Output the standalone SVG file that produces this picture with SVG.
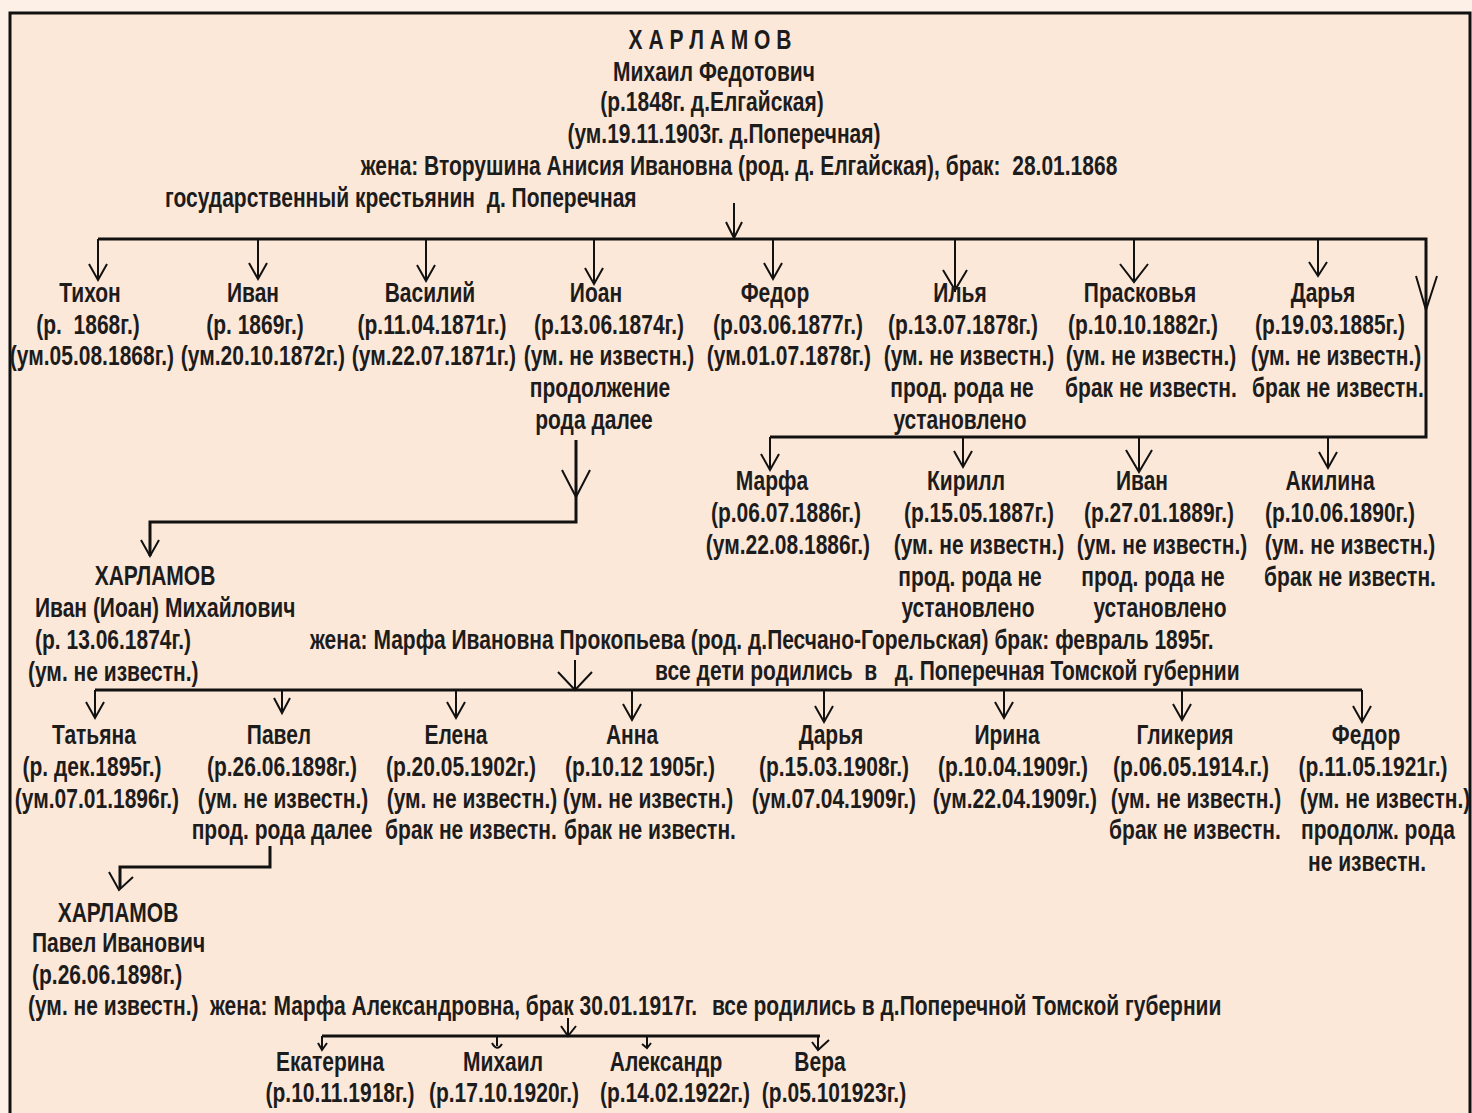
<svg xmlns="http://www.w3.org/2000/svg" width="1472" height="1113" viewBox="0 0 1472 1113">
<style>
.t{font-family:"Liberation Sans",Arial,sans-serif;font-size:21px;font-weight:bold;fill:#1c1c1c;text-anchor:middle;white-space:pre}
.l{text-anchor:start}
.c{stroke:#111;stroke-width:3;fill:none}
.h{stroke:#111;stroke-width:2;fill:none;stroke-linejoin:miter}
</style>
<rect x="0" y="0" width="1472" height="1113" fill="#fdf0e6"/>
<rect x="10" y="13" width="1460" height="1110" fill="#fce8d9" stroke="#111" stroke-width="3"/>

<g id="connectors">
  <path class="h" d="M734,203 V238"/>
  <path class="h" d="M726,222 L734,238 L742,222"/>
  <path class="c" d="M98,239 H1426 V437 H770"/>
  <path class="h" d="M98,239 V280 M89,264 L98,280 L107,264"/>
  <path class="h" d="M258,239 V279 M249,263 L258,279 L267,263"/>
  <path class="h" d="M426,239 V281 M417,265 L426,281 L435,265"/>
  <path class="h" d="M594,239 V284 M585,268 L594,284 L603,268"/>
  <path class="h" d="M773,239 V279 M764,263 L773,279 L782,263"/>
  <path class="h" d="M955,239 V292 M943,270 L955,290 L967,270"/>
  <path class="h" d="M1134,239 V282 M1120,264 L1134,282 L1148,264"/>
  <path class="h" d="M1318,239 V276 M1309,262 L1318,276 L1327,262"/>
  <path class="h" d="M1416,276 L1426,310 L1437,276"/>
  <path class="h" d="M770,437 V470 M761,454 L770,470 L779,454"/>
  <path class="h" d="M963,437 V467 M954,451 L963,467 L972,451"/>
  <path class="h" d="M1139,437 V472 M1126,450 L1139,472 L1152,450"/>
  <path class="h" d="M1328,437 V468 M1319,452 L1328,468 L1337,452"/>
  <path class="c" d="M576,440 V522 H150 V556"/>
  <path class="h" d="M562,470 L576,497 L590,470"/>
  <path class="h" d="M141,540 L150,556 L159,540"/>
  <path class="h" d="M575,660 V690 M558,672 L575,690 L592,672"/>
  <path class="c" d="M95,690 H1362"/>
  <path class="h" d="M95,690 V718 M86,702 L95,718 L104,702"/>
  <path class="h" d="M282,690 V713 M274,698 L282,713 L290,698"/>
  <path class="h" d="M456,690 V718 M447,702 L456,718 L465,702"/>
  <path class="h" d="M632,690 V720 M623,704 L632,720 L641,704"/>
  <path class="h" d="M824,690 V722 M815,706 L824,722 L833,706"/>
  <path class="h" d="M1004,690 V718 M995,702 L1004,718 L1013,702"/>
  <path class="h" d="M1182,690 V720 M1173,704 L1182,720 L1191,704"/>
  <path class="h" d="M1362,690 V722 M1353,706 L1362,722 L1371,706"/>
  <path class="c" d="M270,846 V867 H120 V888"/>
  <path class="h" d="M109,872 L119,890 L133,877"/>
  <path class="h" d="M568,1018 V1036 M561,1026 L568,1036 L576,1026"/>
  <path class="c" d="M322,1036 H820"/>
  <path class="h" d="M322,1036 V1050 M318,1043 L322,1050 L327,1043"/>
  <path class="h" d="M497,1036 V1046 M492,1043 Q497,1052 502,1044"/>
  <path class="h" d="M647,1036 V1047 M642,1044 L647,1048 L651,1043"/>
  <path class="h" d="M818,1036 V1050 M812,1042 L818,1050 L829,1040"/>
</g>

<g transform="scale(1,1.2857)">
<g id="n-mikhail">
  <text class="t" x="710" y="38.11">Х А Р Л А М О В</text>
  <text class="t" x="714" y="63">Михаил Федотович</text>
  <text class="t" x="712" y="86.33">(р.1848г. д.Елгайская)</text>
  <text class="t" x="724" y="111.22">(ум.19.11.1903г. д.Поперечная)</text>
  <text class="t" x="739" y="136.11">жена: Вторушина Анисия Ивановна (род. д. Елгайская), брак:  28.01.1868</text>
  <text class="t l" x="165" y="161">государственный крестьянин  д. Поперечная</text>
</g>
<g id="n-tikhon">
  <text class="t" x="90" y="234.89">Тихон</text>
  <text class="t" x="88" y="259.78">(р.  1868г.)</text>
  <text class="t" x="92" y="283.89">(ум.05.08.1868г.)</text>
</g>
<g id="n-ivan1">
  <text class="t" x="253" y="234.89">Иван</text>
  <text class="t" x="255" y="259.78">(р. 1869г.)</text>
  <text class="t" x="263" y="283.89">(ум.20.10.1872г.)</text>
</g>
<g id="n-vasiliy">
  <text class="t" x="430" y="234.89">Василий</text>
  <text class="t" x="432" y="259.78">(р.11.04.1871г.)</text>
  <text class="t" x="434" y="283.89">(ум.22.07.1871г.)</text>
</g>
<g id="n-ioan">
  <text class="t" x="596" y="234.89">Иоан</text>
  <text class="t" x="609" y="259.78">(р.13.06.1874г.)</text>
  <text class="t" x="609" y="283.89">(ум. не известн.)</text>
  <text class="t" x="600" y="308.78">продолжение</text>
  <text class="t" x="594" y="333.67">рода далее</text>
</g>
<g id="n-fedor1">
  <text class="t" x="775" y="234.89">Федор</text>
  <text class="t" x="788" y="259.78">(р.03.06.1877г.)</text>
  <text class="t" x="789" y="283.89">(ум.01.07.1878г.)</text>
</g>
<g id="n-ilya">
  <text class="t" x="960" y="234.89">Илья</text>
  <text class="t" x="963" y="259.78">(р.13.07.1878г.)</text>
  <text class="t" x="969" y="283.89">(ум. не известн.)</text>
  <text class="t" x="962" y="308.78">прод. рода не</text>
  <text class="t" x="960" y="333.67">установлено</text>
</g>
<g id="n-praskovya">
  <text class="t" x="1140" y="234.89">Прасковья</text>
  <text class="t" x="1143" y="259.78">(р.10.10.1882г.)</text>
  <text class="t" x="1151" y="283.89">(ум. не известн.)</text>
  <text class="t" x="1151" y="308.78">брак не известн.</text>
</g>
<g id="n-darya1">
  <text class="t" x="1323" y="234.89">Дарья</text>
  <text class="t" x="1330" y="259.78">(р.19.03.1885г.)</text>
  <text class="t" x="1336" y="283.89">(ум. не известн.)</text>
  <text class="t" x="1338" y="308.78">брак не известн.</text>
</g>
<g id="n-marfa">
  <text class="t" x="772" y="381.11">Марфа</text>
  <text class="t" x="786" y="406">(р.06.07.1886г.)</text>
  <text class="t" x="788" y="430.89">(ум.22.08.1886г.)</text>
</g>
<g id="n-kirill">
  <text class="t" x="966" y="381.11">Кирилл</text>
  <text class="t" x="979" y="406">(р.15.05.1887г.)</text>
  <text class="t" x="979" y="430.89">(ум. не известн.)</text>
  <text class="t" x="970" y="455.78">прод. рода не</text>
  <text class="t" x="968" y="479.89">установлено</text>
</g>
<g id="n-ivan2">
  <text class="t" x="1142" y="381.11">Иван</text>
  <text class="t" x="1159" y="406">(р.27.01.1889г.)</text>
  <text class="t" x="1162" y="430.89">(ум. не известн.)</text>
  <text class="t" x="1153" y="455.78">прод. рода не</text>
  <text class="t" x="1160" y="479.89">установлено</text>
</g>
<g id="n-akilina">
  <text class="t" x="1330" y="381.11">Акилина</text>
  <text class="t" x="1340" y="406">(р.10.06.1890г.)</text>
  <text class="t" x="1350" y="430.89">(ум. не известн.)</text>
  <text class="t" x="1350" y="455.78">брак не известн.</text>
</g>
<g id="n-ivan-mikhailovich">
  <text class="t" x="155" y="455">ХАРЛАМОВ</text>
  <text class="t l" x="35" y="479.89">Иван (Иоан) Михайлович</text>
  <text class="t l" x="35" y="504.78">(р. 13.06.1874г.)</text>
  <text class="t l" x="28" y="529.67">(ум. не известн.)</text>
  <text class="t l" x="310" y="504.78">жена: Марфа Ивановна Прокопьева (род. д.Песчано-Горельская) брак: февраль 1895г.</text>
  <text class="t l" x="655" y="528.89">все дети родились  в   д. Поперечная Томской губернии</text>
</g>
<g id="n-tatyana">
  <text class="t" x="94" y="578.67">Татьяна</text>
  <text class="t" x="92" y="603.56">(р. дек.1895г.)</text>
  <text class="t" x="97" y="628.44">(ум.07.01.1896г.)</text>
</g>
<g id="n-pavel">
  <text class="t" x="279" y="578.67">Павел</text>
  <text class="t" x="282" y="603.56">(р.26.06.1898г.)</text>
  <text class="t" x="283" y="628.44">(ум. не известн.)</text>
  <text class="t" x="282" y="652.56">прод. рода далее</text>
</g>
<g id="n-elena">
  <text class="t" x="456" y="578.67">Елена</text>
  <text class="t" x="461" y="603.56">(р.20.05.1902г.)</text>
  <text class="t" x="472" y="628.44">(ум. не известн.)</text>
  <text class="t" x="471" y="652.56">брак не известн.</text>
</g>
<g id="n-anna">
  <text class="t" x="632" y="578.67">Анна</text>
  <text class="t" x="640" y="603.56">(р.10.12 1905г.)</text>
  <text class="t" x="648" y="628.44">(ум. не известн.)</text>
  <text class="t" x="650" y="652.56">брак не известн.</text>
</g>
<g id="n-darya2">
  <text class="t" x="831" y="578.67">Дарья</text>
  <text class="t" x="834" y="603.56">(р.15.03.1908г.)</text>
  <text class="t" x="834" y="628.44">(ум.07.04.1909г.)</text>
</g>
<g id="n-irina">
  <text class="t" x="1007" y="578.67">Ирина</text>
  <text class="t" x="1013" y="603.56">(р.10.04.1909г.)</text>
  <text class="t" x="1015" y="628.44">(ум.22.04.1909г.)</text>
</g>
<g id="n-glikeriya">
  <text class="t" x="1185" y="578.67">Гликерия</text>
  <text class="t" x="1191" y="603.56">(р.06.05.1914.г.)</text>
  <text class="t" x="1196" y="628.44">(ум. не известн.)</text>
  <text class="t" x="1195" y="652.56">брак не известн.</text>
</g>
<g id="n-fedor2">
  <text class="t" x="1366" y="578.67">Федор</text>
  <text class="t" x="1373" y="603.56">(р.11.05.1921г.)</text>
  <text class="t" x="1385" y="628.44">(ум. не известн.)</text>
  <text class="t" x="1378" y="652.56">продолж. рода</text>
  <text class="t" x="1367" y="677.44">не известн.</text>
</g>
<g id="n-pavel-ivanovich">
  <text class="t" x="118" y="717.11">ХАРЛАМОВ</text>
  <text class="t l" x="32" y="740.44">Павел Иванович</text>
  <text class="t l" x="32" y="765.33">(р.26.06.1898г.)</text>
  <text class="t l" x="28" y="789.44">(ум. не известн.)</text>
  <text class="t l" x="210" y="789.44">жена: Марфа Александровна, брак 30.01.1917г.</text>
  <text class="t l" x="712" y="789.44">все родились в д.Поперечной Томской губернии</text>
</g>
<g id="n-ekaterina">
  <text class="t" x="330" y="833">Екатерина</text>
  <text class="t" x="340" y="857.11">(р.10.11.1918г.)</text>
</g>
<g id="n-mikhail2">
  <text class="t" x="503" y="833">Михаил</text>
  <text class="t" x="504" y="857.11">(р.17.10.1920г.)</text>
</g>
<g id="n-aleksandr">
  <text class="t" x="666" y="833">Александр</text>
  <text class="t" x="675" y="857.11">(р.14.02.1922г.)</text>
</g>
<g id="n-vera">
  <text class="t" x="820" y="833">Вера</text>
  <text class="t" x="834" y="857.11">(р.05.101923г.)</text>
</g>
</g>
</svg>
